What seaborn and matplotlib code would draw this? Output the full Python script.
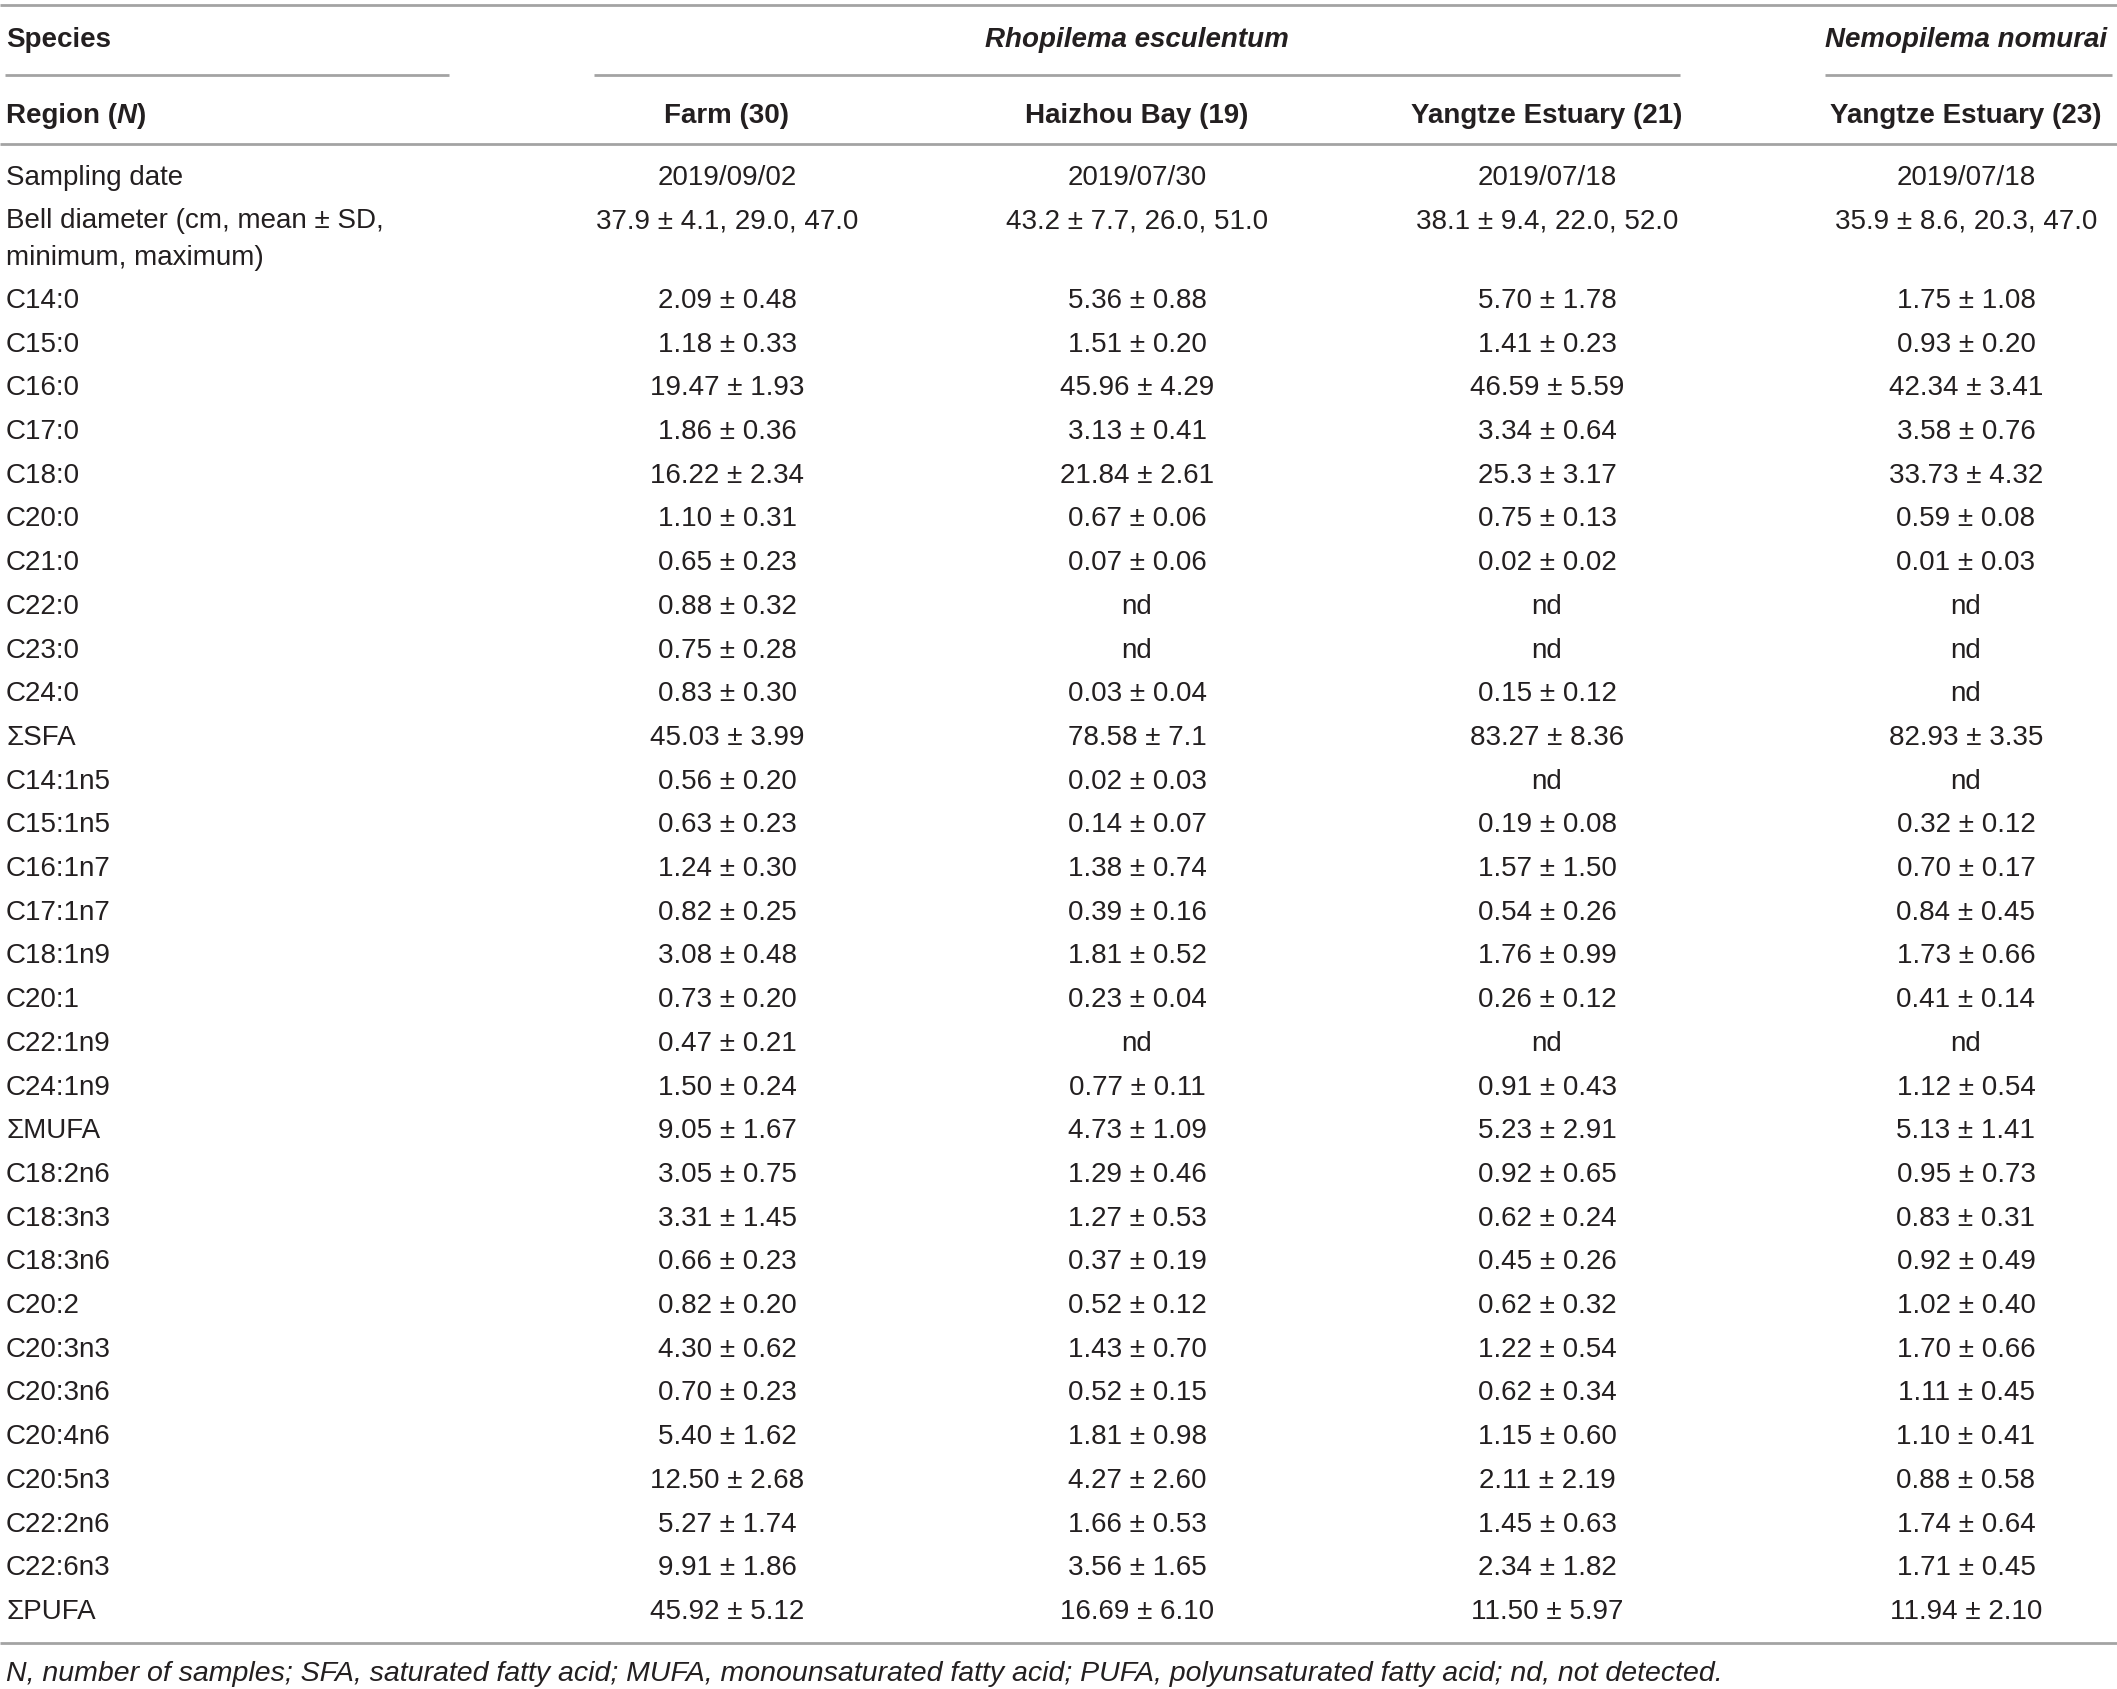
import matplotlib
matplotlib.use("Agg")
import matplotlib.pyplot as plt
import seaborn as sns
import pandas as pd

# table content
species = ["Rhopilema esculentum", "Nemopilema nomurai"]
regions = ["Farm (30)", "Haizhou Bay (19)", "Yangtze Estuary (21)", "Yangtze Estuary (23)"]
sampling_date = ["2019/09/02", "2019/07/30", "2019/07/18", "2019/07/18"]
bell_diameter = ["37.9 ± 4.1, 29.0, 47.0", "43.2 ± 7.7, 26.0, 51.0",
                 "38.1 ± 9.4, 22.0, 52.0", "35.9 ± 8.6, 20.3, 47.0"]

fatty_acids = ["C14:0", "C15:0", "C16:0", "C17:0", "C18:0", "C20:0", "C21:0", "C22:0",
               "C23:0", "C24:0", "ΣSFA", "C14:1n5", "C15:1n5", "C16:1n7", "C17:1n7",
               "C18:1n9", "C20:1", "C22:1n9", "C24:1n9", "ΣMUFA", "C18:2n6", "C18:3n3",
               "C18:3n6", "C20:2", "C20:3n3", "C20:3n6", "C20:4n6", "C20:5n3", "C22:2n6",
               "C22:6n3", "ΣPUFA"]

farm = ["2.09 ± 0.48", "1.18 ± 0.33", "19.47 ± 1.93", "1.86 ± 0.36", "16.22 ± 2.34",
        "1.10 ± 0.31", "0.65 ± 0.23", "0.88 ± 0.32", "0.75 ± 0.28", "0.83 ± 0.30",
        "45.03 ± 3.99", "0.56 ± 0.20", "0.63 ± 0.23", "1.24 ± 0.30", "0.82 ± 0.25",
        "3.08 ± 0.48", "0.73 ± 0.20", "0.47 ± 0.21", "1.50 ± 0.24", "9.05 ± 1.67",
        "3.05 ± 0.75", "3.31 ± 1.45", "0.66 ± 0.23", "0.82 ± 0.20", "4.30 ± 0.62",
        "0.70 ± 0.23", "5.40 ± 1.62", "12.50 ± 2.68", "5.27 ± 1.74", "9.91 ± 1.86",
        "45.92 ± 5.12"]
haizhou = ["5.36 ± 0.88", "1.51 ± 0.20", "45.96 ± 4.29", "3.13 ± 0.41", "21.84 ± 2.61",
           "0.67 ± 0.06", "0.07 ± 0.06", "nd", "nd", "0.03 ± 0.04",
           "78.58 ± 7.1", "0.02 ± 0.03", "0.14 ± 0.07", "1.38 ± 0.74", "0.39 ± 0.16",
           "1.81 ± 0.52", "0.23 ± 0.04", "nd", "0.77 ± 0.11", "4.73 ± 1.09",
           "1.29 ± 0.46", "1.27 ± 0.53", "0.37 ± 0.19", "0.52 ± 0.12", "1.43 ± 0.70",
           "0.52 ± 0.15", "1.81 ± 0.98", "4.27 ± 2.60", "1.66 ± 0.53", "3.56 ± 1.65",
           "16.69 ± 6.10"]
yangtze_re = ["5.70 ± 1.78", "1.41 ± 0.23", "46.59 ± 5.59", "3.34 ± 0.64", "25.3 ± 3.17",
              "0.75 ± 0.13", "0.02 ± 0.02", "nd", "nd", "0.15 ± 0.12",
              "83.27 ± 8.36", "nd", "0.19 ± 0.08", "1.57 ± 1.50", "0.54 ± 0.26",
              "1.76 ± 0.99", "0.26 ± 0.12", "nd", "0.91 ± 0.43", "5.23 ± 2.91",
              "0.92 ± 0.65", "0.62 ± 0.24", "0.45 ± 0.26", "0.62 ± 0.32", "1.22 ± 0.54",
              "0.62 ± 0.34", "1.15 ± 0.60", "2.11 ± 2.19", "1.45 ± 0.63", "2.34 ± 1.82",
              "11.50 ± 5.97"]
yangtze_nn = ["1.75 ± 1.08", "0.93 ± 0.20", "42.34 ± 3.41", "3.58 ± 0.76", "33.73 ± 4.32",
              "0.59 ± 0.08", "0.01 ± 0.03", "nd", "nd", "nd",
              "82.93 ± 3.35", "nd", "0.32 ± 0.12", "0.70 ± 0.17", "0.84 ± 0.45",
              "1.73 ± 0.66", "0.41 ± 0.14", "nd", "1.12 ± 0.54", "5.13 ± 1.41",
              "0.95 ± 0.73", "0.83 ± 0.31", "0.92 ± 0.49", "1.02 ± 0.40", "1.70 ± 0.66",
              "1.11 ± 0.45", "1.10 ± 0.41", "0.88 ± 0.58", "1.74 ± 0.64", "1.71 ± 0.45",
              "11.94 ± 2.10"]

footnote = ("N, number of samples; SFA, saturated fatty acid; MUFA, monounsaturated fatty acid; "
            "PUFA, polyunsaturated fatty acid; nd, not detected.")

df = pd.DataFrame({"label": fatty_acids, "farm": farm, "haizhou": haizhou,
                   "yangtze_re": yangtze_re, "yangtze_nn": yangtze_nn})

sns.set_theme(style="white")
plt.rcParams["font.family"] = ["Liberation Sans", "DejaVu Sans"]

W, H = 2117, 1690
fig = plt.figure(figsize=(W / 100, H / 100), dpi=100)
ax = fig.add_axes([0, 0, 1, 1])
ax.set_xlim(0, W)
ax.set_ylim(H, 0)
ax.axis("off")

txt = "#231f20"
rule = "#a3a3a3"
fs = 20
left = 6
col_x = [727, 1137, 1547, 1966]

# rules
for y in (6, 145, 1644):
    ax.plot([0, W], [y, y], color=rule, lw=2.0, solid_capstyle="butt")
for x0, x1 in [(5, 449), (594, 1680), (1825, 2112)]:
    ax.plot([x0, x1], [76, 76], color=rule, lw=2.0, solid_capstyle="butt")

# header
ax.text(left, 47, "Species", fontsize=fs, weight="bold", color=txt, va="baseline")
ax.text(col_x[1], 47, species[0], fontsize=fs, weight="bold", style="italic",
        color=txt, va="baseline", ha="center")
ax.text(col_x[3], 47, species[1], fontsize=fs, weight="bold", style="italic",
        color=txt, va="baseline", ha="center")

renderer = fig.canvas.get_renderer()
x = left
for part, sty in [("Region (", "normal"), ("N", "italic"), (")", "normal")]:
    t = ax.text(x, 123, part, fontsize=fs, weight="bold", style=sty, color=txt, va="baseline")
    x += t.get_window_extent(renderer).width
for cx, r in zip(col_x, regions):
    ax.text(cx, 123, r, fontsize=fs, weight="bold", color=txt, va="baseline", ha="center")

# sampling date and bell diameter
ax.text(left, 185, "Sampling date", fontsize=fs, color=txt, va="baseline")
ax.text(left, 228, "Bell diameter (cm, mean ± SD,", fontsize=fs, color=txt, va="baseline")
ax.text(left, 265, "minimum, maximum)", fontsize=fs, color=txt, va="baseline")
for cx, d, b in zip(col_x, sampling_date, bell_diameter):
    ax.text(cx, 185, d, fontsize=fs, color=txt, va="baseline", ha="center")
    ax.text(cx, 228, b, fontsize=fs, color=txt, va="baseline", ha="center")

# fatty acid rows
y0, step = 308, 43.7
for i, row in df.iterrows():
    y = y0 + i * step
    ax.text(left, y, row["label"], fontsize=fs, color=txt, va="baseline")
    for cx, key in zip(col_x, ["farm", "haizhou", "yangtze_re", "yangtze_nn"]):
        ax.text(cx, y, row[key], fontsize=fs, color=txt, va="baseline", ha="center")

ax.text(left, 1681, footnote, fontsize=20.5, style="italic", color=txt, va="baseline")

fig.savefig("out.png", dpi=100)
